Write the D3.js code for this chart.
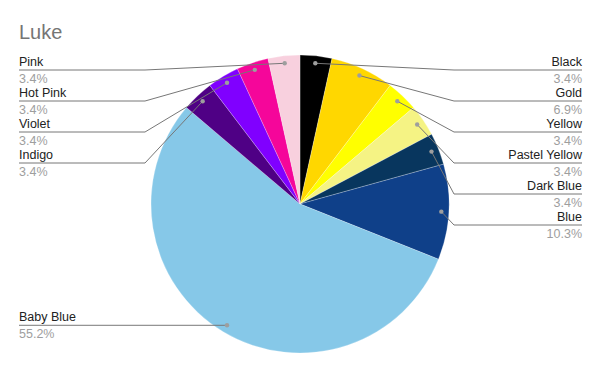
<!DOCTYPE html>
<html>
<head>
<meta charset="utf-8">
<script src="https://cdn.jsdelivr.net/npm/d3@7"></script>
<style>
  body { margin: 0; background: #fff; }
  text { font-family: "Liberation Sans", Arial, sans-serif; }
</style>
</head>
<body>
<script>
var w = 600;
var h = 371;

var categories = ["Black", "Gold", "Yellow", "Pastel Yellow", "Dark Blue", "Blue", "Baby Blue", "Indigo", "Violet", "Hot Pink", "Pink"];
var counts = [1, 2, 1, 1, 1, 3, 16, 1, 1, 1, 1];
var colors = ["#000000", "#ffd700", "#ffff00", "#f5f384", "#08365e", "#0f4089", "#86c8e8", "#4f0085", "#8000ff", "#f5069a", "#f8d0de"];

var cx = 300, cy = 204, r = 149;

drawChart();
function drawChart(){
    var svg = d3.select("body")
        .append("svg")
        .attr("width", w)
        .attr("height", h);

    svg.append("text")
        .text("Luke")
        .attr("x", 19)
        .attr("y", 39)
        .attr("font-size", 20)
        .attr("fill", "#757575");

    var total = d3.sum(counts);
    var data = categories.map(function(c, i){ return {name: c, value: counts[i], color: colors[i]}; });

    var pie = d3.pie().value(function(d){ return d.value; }).sort(null);
    var arcs = pie(data);
    var arc = d3.arc().innerRadius(0).outerRadius(r);
    var dotArc = d3.arc().innerRadius(r * 0.95).outerRadius(r * 0.95);

    var g = svg.append("g").attr("transform", "translate(" + cx + "," + cy + ")");
    g.selectAll("path")
        .data(arcs)
        .enter().append("path")
        .attr("d", arc)
        .attr("fill", function(d){ return d.data.color; })
        .attr("stroke", "#ffffff")
        .attr("stroke-opacity", 0.4)
        .attr("stroke-width", 0.6);

    //-----labels: stack right side top-down, left side top-down----
    var gap = 31, top = 70;
    arcs.forEach(function(d){
        var p = dotArc.centroid(d);
        d.dot = [cx + p[0], cy + p[1]];
        d.mid = (d.startAngle + d.endAngle) / 2;
        d.right = d.mid < Math.PI;
    });
    var right = arcs.filter(function(d){ return d.right; });
    var left = arcs.filter(function(d){ return !d.right; }).reverse();
    [right, left].forEach(function(side){
        var prev = top - gap;
        side.forEach(function(d){
            d.ly = Math.max(d.dot[1], prev + gap);
            prev = d.ly;
        });
    });

    var fmt = d3.format(".1%");
    arcs.forEach(function(d){
        var ex = d.right ? cx + r + 5 : cx - r - 6;
        var endX = d.right ? 582 : 19;
        var pts = [d.dot, [ex, d.ly], [endX, d.ly]];
        svg.append("path")
            .attr("d", d3.line()(pts))
            .attr("fill", "none")
            .attr("stroke", "#777777")
            .attr("stroke-width", 1);
        svg.append("circle")
            .attr("cx", d.dot[0])
            .attr("cy", d.dot[1])
            .attr("r", 2.2)
            .attr("fill", "#9e9e9e");
        var anchor = d.right ? "end" : "start";
        svg.append("text")
            .text(d.data.name)
            .attr("x", endX)
            .attr("y", d.ly - 4)
            .attr("font-size", 12.5)
            .attr("text-anchor", anchor)
            .attr("fill", "#222222");
        svg.append("text")
            .text(fmt(d.data.value / total))
            .attr("x", endX)
            .attr("y", d.ly + 13)
            .attr("font-size", 12.5)
            .attr("text-anchor", anchor)
            .attr("fill", "#9e9e9e");
    });
}
</script>
</body>
</html>
